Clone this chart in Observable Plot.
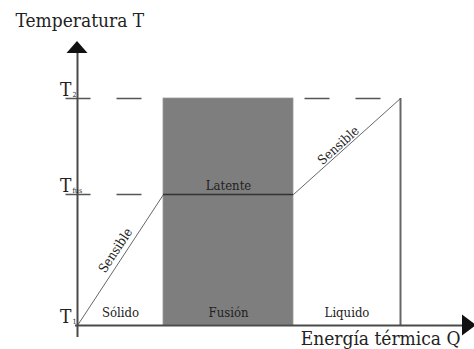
<!DOCTYPE html>
<html><head><meta charset="utf-8">
<script src="https://cdn.jsdelivr.net/npm/d3@7"></script>
<script src="https://cdn.jsdelivr.net/npm/@observablehq/plot@0.6"></script>
<style>body{margin:0;background:#fff} svg{display:block}</style>
</head><body><div id="chart"></div>
<script>
// ---- Data (Q: thermal energy, T: temperature; arbitrary units) ----
const phaseNames = ["Sólido", "Fusión", "Liquido"];
const phaseBounds = [0, 86, 216, 323];          // Q boundaries of the three phases
const levelValues = [0, 131, 227];              // T1, Tfus, T2
const levelSubs = ["1", "fus", "2"];
const curveQ = [0, 86, 216, 323];               // heating curve
const curveT = [0, 131, 131, 227];
const segmentLabels = ["Sensible", "Latente", "Sensible"];
const segmentLabelQ = [38, 151, 261];
const segmentLabelT = [75, 140, 180];
const axisTitles = ["Temperatura T", "Energía térmica Q"];
const axisExtentQ = [-2, 385, 399];             // x-axis start, arrow base, arrow tip
const axisExtentT = [-12, 272, 284];            // y-axis start, arrow base, arrow tip
const guideStartQ = [-12, 227];                 // dashed guide starts (left, right)

// ---- Layout ----
const W = 474, H = 349, mL = 77, mR = 0, mT = 0, mB = 24;
const xDomain = [0, 397], yDomain = [0, 325];
const xs = d3.scaleLinear().domain(xDomain).range([mL, W - mR]);
const ys = d3.scaleLinear().domain(yDomain).range([H - mB, mT]);
const serif = "'DejaVu Serif Condensed', 'DejaVu Serif', serif";

const curve = curveQ.map((q, i) => ({q, t: curveT[i]}));
const phases = phaseNames.map((name, i) => ({name, q1: phaseBounds[i], q2: phaseBounds[i + 1], mid: (phaseBounds[i] + phaseBounds[i + 1]) / 2}));
const levels = levelValues.map((t, i) => ({t, sub: levelSubs[i]}));
const angle = (i) => {
  const a = curve[i], b = curve[i + 1];
  return Math.atan2(ys(b.t) - ys(a.t), xs(b.q) - xs(a.q)) * 180 / Math.PI;
};
const segLabels = segmentLabels.map((label, i) => ({label, q: segmentLabelQ[i], t: segmentLabelT[i], rot: angle(i)}));

const fusion = phases[1];
const T2 = levelValues[2], Tfus = levelValues[1];
const guides = [
  {x1: guideStartQ[0], x2: fusion.q1, y: T2},
  {x1: guideStartQ[0], x2: fusion.q1, y: Tfus},
  {x1: guideStartQ[1], x2: phaseBounds[3], y: T2}
];

function arrowHeads(index, scales) {
  const g = d3.create("svg:g").attr("fill", "#111");
  const x0 = scales.x(0), y0 = scales.y(0), hw = 10.5;
  const yb = scales.y(axisExtentT[1]), yt = scales.y(axisExtentT[2]);
  g.append("path").attr("d", `M${x0 - hw},${yb}L${x0 + hw},${yb}L${x0},${yt}Z`);
  const xb = scales.x(axisExtentQ[1]), xt = scales.x(axisExtentQ[2]);
  g.append("path").attr("d", `M${xb},${y0 - hw}L${xb},${y0 + hw}L${xt},${y0}Z`);
  return g.node();
}

const txt = {fontFamily: serif, fill: "#222"};
const chart = Plot.plot({
  width: W, height: H,
  marginLeft: mL, marginRight: mR, marginTop: mT, marginBottom: mB,
  x: {domain: xDomain, axis: null},
  y: {domain: yDomain, axis: null},
  style: {fontFamily: serif, background: "#fff", overflow: "visible"},
  marks: [
    Plot.rect([fusion], {x1: "q1", x2: "q2", y1: 0, y2: T2, fill: "#7e7e7e", stroke: "#9a9a9a", strokeWidth: 0.8}),
    Plot.link(guides, {x1: "x1", x2: "x2", y1: "y", y2: "y", stroke: "#555", strokeWidth: 1.3, strokeDasharray: "25,26"}),
    Plot.ruleX([phaseBounds[3]], {y1: 0, y2: T2, stroke: "#666", strokeWidth: 2}),
    Plot.line(curve, {x: "q", y: "t", stroke: "#555", strokeWidth: 0.9}),
    Plot.ruleY([Tfus], {x1: fusion.q1, x2: fusion.q2, stroke: "#333", strokeWidth: 1.6}),
    Plot.ruleX([0], {y1: axisExtentT[0], y2: axisExtentT[1], stroke: "#4a4a4a", strokeWidth: 2}),
    Plot.ruleY([0], {x1: axisExtentQ[0], x2: axisExtentQ[1], stroke: "#4a4a4a", strokeWidth: 2}),
    arrowHeads,
    Plot.text(phases, {...txt, x: "mid", y: 13, text: "name", fontSize: 13, textAnchor: "middle", lineAnchor: "middle"}),
    Plot.text(segLabels, {...txt, x: "q", y: "t", text: "label", rotate: "rot", fontSize: 13, textAnchor: "middle", lineAnchor: "middle"}),
    Plot.text(levels, {...txt, x: 0, y: "t", text: () => "T", fontSize: 19, textAnchor: "end", lineAnchor: "middle", dx: -6, dy: -9}),
    Plot.text(levels, {...txt, x: 0, y: "t", text: "sub", fontSize: 7, textAnchor: "start", lineAnchor: "middle", dx: -5, dy: -4}),
    Plot.text([axisTitles[0]], {...txt, frameAnchor: "top-left", text: d => d, fontSize: 19, textAnchor: "start", lineAnchor: "top", dx: -62, dy: 13}),
    Plot.text([axisTitles[1]], {...txt, frameAnchor: "bottom-right", text: d => d, fontSize: 19, textAnchor: "end", lineAnchor: "middle", dx: -14, dy: 13})
  ]
});
document.getElementById("chart").append(chart);
</script>
</body></html>
